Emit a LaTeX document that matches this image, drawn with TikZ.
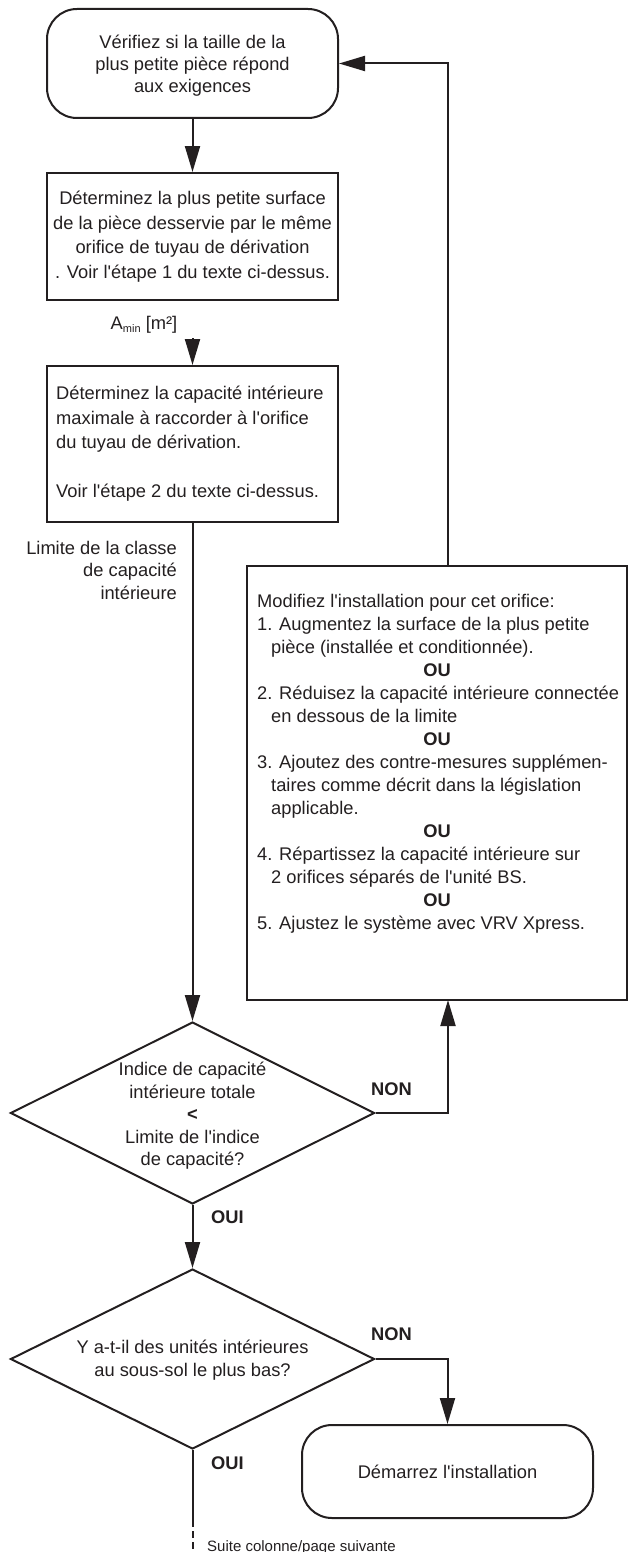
\documentclass[tikz,border=0pt]{standalone}
\usepackage{fontspec}
\setmainfont{Liberation Sans}[Ligatures=TeXOff]
\usetikzlibrary{arrows.meta,shapes.geometric,calc}
\definecolor{ink}{HTML}{231F20}
\begin{document}
\begin{tikzpicture}[x=1pt,y=-1pt,
  every node/.style={text=ink, font=\fontsize{18.3}{23}\selectfont},
  ln/.style={draw=ink, line width=2pt},
  arr/.style={ln, -{Triangle[length=26pt,width=15pt]}},
  rbox/.style={draw=ink, line width=2pt, rounded corners=30pt, inner sep=0pt, align=center},
  sbox/.style={draw=ink, line width=2pt, inner sep=0pt},
  dia/.style={draw=ink, line width=2pt, diamond, inner sep=0pt},
  lbl/.style={font=\fontsize{18.3}{20}\selectfont\bfseries}
]
\useasboundingbox (0,0) rectangle (628,1552);

% boxes
\node[rbox, minimum width=291pt, minimum height=109pt] (top) at (192.5,63.5) {};
\node[align=center, inner sep=0pt, font=\fontsize{18.3}{22}\selectfont] (toptext) at (192.5,66)
  {Vérifiez si la taille de la\\plus petite pièce répond\\aux exigences};
\node[sbox, align=center, minimum width=291pt, minimum height=127pt,
  font=\fontsize{18.3}{24.5}\selectfont] (box2) at (192.5,236.5)
  {Déterminez la plus petite surface\\de la pièce desservie par le même\\orifice de tuyau de dérivation\\. Voir l'étape 1 du texte ci-dessus.};
\node[sbox, minimum width=291pt, minimum height=156pt] (box3) at (192.5,444) {};
\node[align=left, inner sep=0pt, anchor=west, font=\fontsize{18.3}{24.5}\selectfont] (box3text) at (56,444)
  {Déterminez la capacité intérieure\\maximale à raccorder à l'orifice\\du tuyau de dérivation.\\[24.5pt]Voir l'étape 2 du texte ci-dessus.};

\node[inner sep=0pt] (amin) at (144,325)
  {A{\fontsize{11}{11}\selectfont\raisebox{-3pt}{min}} [m²]};
\coordinate (amintip) at (192.5,338);

\node[align=right, inner sep=0pt, anchor=east, font=\fontsize{18.3}{22.5}\selectfont] (limite) at (177,570)
  {Limite de la classe\\de capacité\\intérieure};

\node[sbox, minimum width=380pt, minimum height=434pt] (box4) at (437,783) {};
\node[align=left, inner sep=0pt, anchor=west] (box4text) at (257,763.5)
  {Modifiez l'installation pour cet orifice:\\
   1. Augmentez la surface de la plus petite\\
   \hspace*{14pt}pièce (installée et conditionnée).\\
   \makebox[360pt][c]{\bfseries OU}\\
   2. Réduisez la capacité intérieure connectée\\
   \hspace*{14pt}en dessous de la limite\\
   \makebox[360pt][c]{\bfseries OU}\\
   3. Ajoutez des contre-mesures supplémen-\\
   \hspace*{14pt}taires comme décrit dans la législation\\
   \hspace*{14pt}applicable.\\
   \makebox[360pt][c]{\bfseries OU}\\
   4. Répartissez la capacité intérieure sur\\
   \hspace*{14pt}2 orifices séparés de l'unité BS.\\
   \makebox[360pt][c]{\bfseries OU}\\
   5. Ajustez le système avec VRV Xpress.};

% diamonds
\node[dia, minimum width=364pt, minimum height=182pt] (d1) at (192.5,1113) {};
\node[align=center, inner sep=0pt, font=\fontsize{18.3}{22.5}\selectfont] (d1text) at (192.5,1116)
  {Indice de capacité\\intérieure totale\\{\bfseries <}\\Limite de l'indice\\de capacité?};
\node[dia, minimum width=364pt, minimum height=180pt] (d2) at (192.5,1359) {};
\node[align=center, inner sep=0pt] (d2text) at (192.5,1360)
  {Y a-t-il des unités intérieures\\au sous-sol le plus bas?};

\node[rbox, minimum width=291pt, minimum height=93pt] (start) at (447.5,1471.5)
  {Démarrez l'installation};

% labels
\node[lbl, anchor=west, inner sep=0pt] (non1) at (371,1089) {NON};
\node[lbl, anchor=west, inner sep=0pt] (oui1) at (211,1217) {OUI};
\node[lbl, anchor=west, inner sep=0pt] (non2) at (371,1334) {NON};
\node[lbl, anchor=west, inner sep=0pt] (oui2) at (211,1463) {OUI};
\node[anchor=west, inner sep=0pt, font=\fontsize{15}{16}\selectfont] (suite) at (207,1548)
  {Suite colonne/page suivante};

% connectors
\coordinate (b4in) at (448,1000);
\coordinate (b4out) at (448,566);
\coordinate (cont) at (192.5,1527);
\coordinate (contdash) at (192.5,1531);
\coordinate (contend) at (192.5,1556);

\draw[arr] (top.south) -- (box2.north);
\draw[arr] (amintip) -- (box3.north);
\draw[arr] (box3.south) -- (d1.north);
\draw[arr] (d1.east) -| (b4in);
\draw[arr] (b4out) |- (top.east);
\draw[arr] (d1.south) -- (d2.north);
\draw[arr] (d2.east) -| (start.north);
\draw[ln] (d2.south) -- (cont);
\draw[ln, dash pattern=on 7pt off 4pt] (contdash) -- (contend);
\end{tikzpicture}
\end{document}
